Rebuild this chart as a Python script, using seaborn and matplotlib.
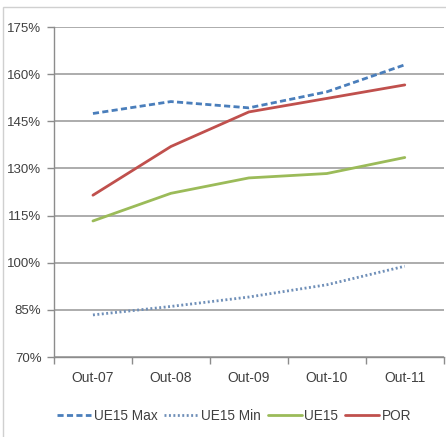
import matplotlib
matplotlib.use("Agg")
import matplotlib.pyplot as plt
import matplotlib.patches as mpatches
import matplotlib.ticker as mticker
import seaborn as sns
import pandas as pd

categories = ["Out-07", "Out-08", "Out-09", "Out-10", "Out-11"]
ue15_max = [147.5, 151.3, 149.3, 154.4, 163.0]
ue15_min = [83.4, 86.1, 89.1, 93.0, 98.9]
ue15 = [113.3, 122.1, 127.0, 128.4, 133.5]
por = [121.5, 137.0, 148.0, 152.3, 156.6]
y_ticks = [70, 85, 100, 115, 130, 145, 160, 175]

series = {
    "UE15 Max": (ue15_max, "#4A7EBB", (0, (2.2, 1.2))),
    "UE15 Min": (ue15_min, "#6F8FB8", (0, (0.7, 0.9))),
    "UE15": (ue15, "#9BBB59", "-"),
    "POR": (por, "#C0504D", "-"),
}

sns.set_theme(style="white")
plt.rcParams["font.family"] = ["Liberation Sans Narrow", "Liberation Sans", "DejaVu Sans"]

fig = plt.figure(figsize=(4.46, 4.37), dpi=100)
ax = fig.add_axes([0.121, 0.183, 0.874, 0.755])

# chart frame
fig.patches.append(mpatches.Rectangle((0.006, -0.01), 1.5, 0.995, transform=fig.transFigure,
                                      fill=False, edgecolor="#d0d0d0", linewidth=1.0))

x = list(range(len(categories)))
for name, (vals, color, ls) in series.items():
    df = pd.DataFrame({"x": x, "y": vals})
    sns.lineplot(data=df, x="x", y="y", ax=ax, color=color, linewidth=2.0,
                 linestyle=ls, label=name, legend=False)

ax.set_xlim(-0.5, len(categories) - 0.5)
ax.set_ylim(70, 175)
ax.set_yticks(y_ticks)
ax.yaxis.set_major_formatter(mticker.FuncFormatter(lambda v, p: f"{int(v)}%"))
ax.set_xticks(x)
ax.set_xticklabels(categories)
ax.set_xticks([i - 0.5 for i in range(len(categories) + 1)], minor=True)
ax.set_xlabel("")
ax.set_ylabel("")

ax.grid(axis="y", color="#a6a6a6", linewidth=1.3)
ax.set_axisbelow(True)
for s in ["top", "right"]:
    ax.spines[s].set_visible(False)
for s in ["left", "bottom"]:
    ax.spines[s].set_color("#8c8c8c")
    ax.spines[s].set_linewidth(1.0)

ax.tick_params(axis="y", which="major", length=5, width=1, color="#8c8c8c",
               labelsize=9.5, labelcolor="#404040", pad=4, left=True)
ax.tick_params(axis="x", which="major", length=0, labelsize=10, labelcolor="#404040", pad=10)
ax.tick_params(axis="x", which="minor", length=5, width=1, color="#8c8c8c", bottom=True)

handles, labels = ax.get_legend_handles_labels()
fig.legend(handles, labels, loc="center", bbox_to_anchor=(0.525, 0.048), ncol=4,
           frameon=False, fontsize=9.8, handlelength=2.5, handletextpad=0.2,
           columnspacing=0.5, labelcolor="#404040")

fig.savefig("out.png", dpi=100, facecolor="white")
